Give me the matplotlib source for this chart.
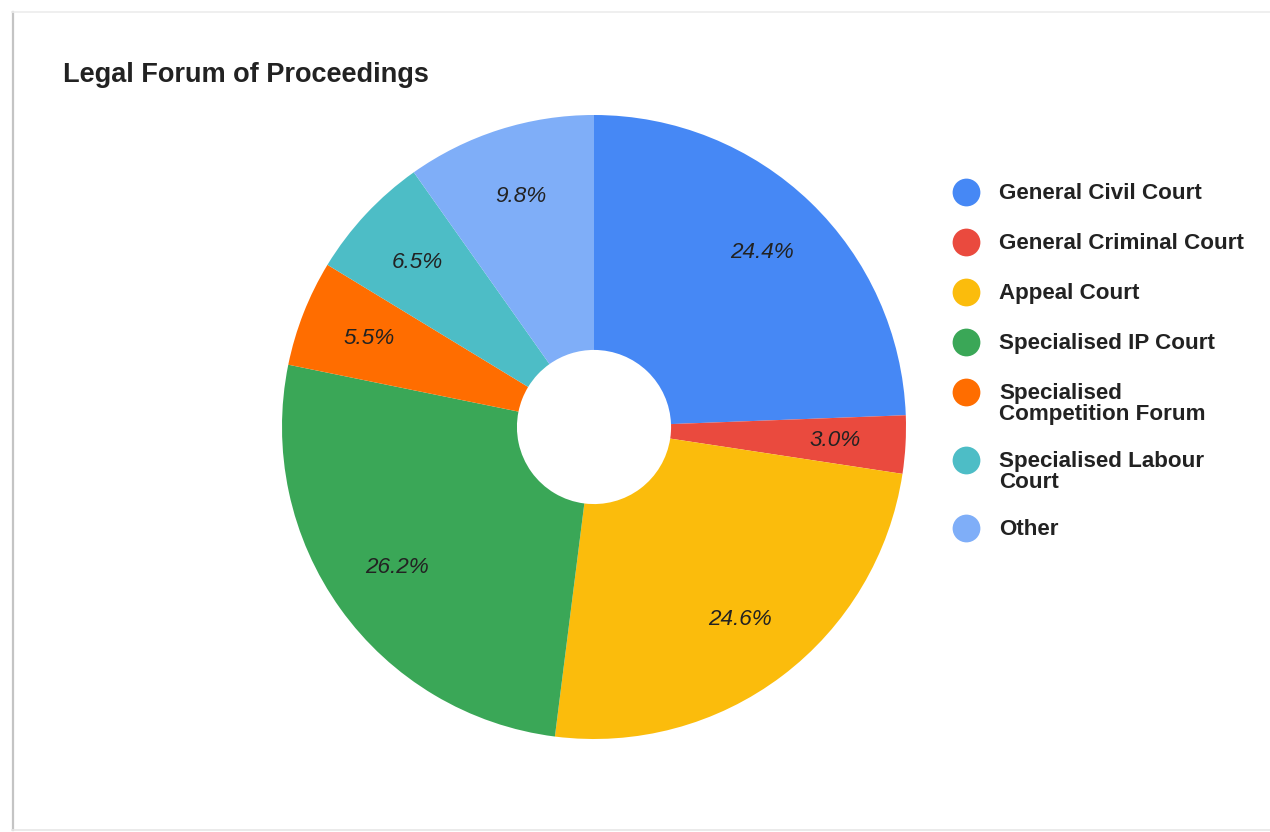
"""
Legal Forum of Proceedings - donut chart
"""

import matplotlib
matplotlib.use('Agg')
import matplotlib.pyplot as plt
from matplotlib.lines import Line2D

plt.rcParams['font.family'] = ['Liberation Sans', 'DejaVu Sans']

# Data
categories = [
    'General Civil Court',
    'General Criminal Court',
    'Appeal Court',
    'Specialised IP Court',
    'Specialised\nCompetition Forum',
    'Specialised Labour\nCourt',
    'Other',
]
shares = [24.4, 3.0, 24.6, 26.2, 5.5, 6.5, 9.8]
colors = ['#4688F5', '#EA4A3E', '#FBBC0C', '#3AA757', '#FF6D00', '#4DBDC6', '#7FAEF8']

W, H = 1270, 832
fig = plt.figure(figsize=(W / 100, H / 100), dpi=100)
fig.patch.set_facecolor('white')

# card frame (left side shadow, light top/bottom)
fig.add_artist(Line2D([12.5 / W, 12.5 / W], [1 - 12 / H, 1 - 830 / H], color='#c4c4c4', lw=1.6))
fig.add_artist(Line2D([12 / W, 1], [1 - 12 / H, 1 - 12 / H], color='#ececec', lw=1.2))
fig.add_artist(Line2D([12 / W, 1], [1 - 830 / H, 1 - 830 / H], color='#e6e6e6', lw=1.2))

# pie axes: center (594, 427) px, radius 312 px
cx, cy, r = 594, 427, 312
ax = fig.add_axes([(cx - r) / W, (H - cy - r) / H, 2 * r / W, 2 * r / H])
wedges, texts, autotexts = ax.pie(
    shares, colors=colors, startangle=90, counterclock=False,
    autopct='%.1f%%', pctdistance=0.775, radius=1.0,
    wedgeprops=dict(width=0.753, linewidth=0),
    textprops=dict(fontsize=16.2, style='italic', color='#222222'))
ax.set_xlim(-1, 1)
ax.set_ylim(-1, 1)
ax.set_aspect('equal')
ax.axis('off')

fig.text(63 / W, 1 - 75 / H, 'Legal Forum of Proceedings', fontsize=19.5,
         fontweight='bold', color='#222222', va='center', ha='left')

# legend, drawn by hand so markers sit on the first text line
y = 192
for label, color in zip(categories, colors):
    fig.add_artist(Line2D([966 / W], [1 - y / H], marker='o', markersize=20,
                          markerfacecolor=color, markeredgewidth=0, linestyle='none'))
    fig.text(999 / W, 1 - (y - 9) / H, label, fontsize=16.1, fontweight='bold',
             color='#222222', va='top', ha='left', linespacing=1.02)
    y += 50 + 18 * label.count('\n')

fig.savefig('out.png', dpi=100)
